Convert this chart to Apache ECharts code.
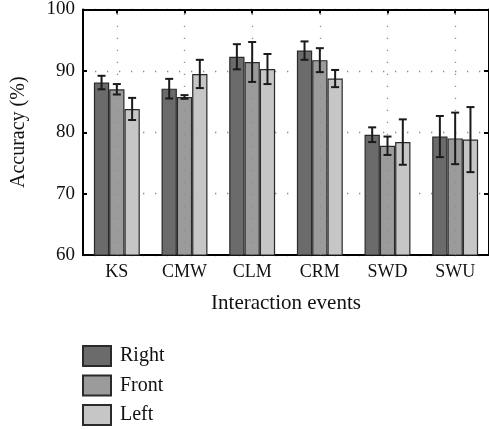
<!DOCTYPE html>
<html>
<head>
<meta charset="utf-8">
<script src="https://cdn.jsdelivr.net/npm/echarts@6/dist/echarts.min.js"></script>
<style>
  html, body { margin: 0; padding: 0; background: #fff; }
  #chart { width: 489px; height: 429px; }
</style>
</head>
<body>
<div id="chart"></div>
<script>
// Interaction events and accuracy (mean and spread) per hand position
const categories = ['KS', 'CMW', 'CLM', 'CRM', 'SWD', 'SWU'];
const seriesNames = ['Right', 'Front', 'Left'];
const rightMean = [88.1, 87.1, 92.3, 93.3, 79.6, 79.3];
const rightErr  = [1.1, 1.6, 2.05, 1.5, 1.2, 3.35];
const frontMean = [87.0, 85.75, 91.45, 91.75, 77.8, 79.0];
const frontErr  = [0.85, 0.3, 3.25, 1.95, 1.5, 4.2];
const leftMean  = [83.8, 89.5, 90.3, 88.75, 78.4, 78.8];
const leftErr   = [1.8, 2.3, 2.45, 1.4, 3.7, 5.3];
const yTicks = [60, 70, 80, 90, 100];

const means = [rightMean, frontMean, leftMean];
const errs = [rightErr, frontErr, leftErr];
const colors = ['#6b6b6b', '#9b9b9b', '#c6c6c6'];

const FONT = 'Liberation Serif';
const BAR_W = 15.3;

const chart = echarts.init(document.getElementById('chart'), null, { renderer: 'canvas' });

const dotted = { color: '#8a8a8a', width: 1.3, type: [1.3, 10.7] };

const barSeries = seriesNames.map((name, i) => ({
  name,
  type: 'bar',
  data: means[i],
  barWidth: BAR_W,
  barGap: '0%',
  z: 3,
  itemStyle: { color: colors[i], borderColor: '#2a2a2a', borderWidth: 1.2 }
}));

// error bars, one custom series per position offset to sit on its bar
const errSeries = seriesNames.map((name, i) => ({
  type: 'custom',
  z: 5,
  silent: true,
  data: categories.map((c, k) => [k, means[i][k] - errs[i][k], means[i][k] + errs[i][k]]),
  renderItem: function (params, api) {
    const lo = api.coord([api.value(0), api.value(1)]);
    const hi = api.coord([api.value(0), api.value(2)]);
    const x = lo[0] + (i - 1) * BAR_W;
    const cap = 4;
    const style = { stroke: '#1a1a1a', lineWidth: 2 };
    return {
      type: 'group',
      children: [
        { type: 'line', shape: { x1: x, y1: lo[1], x2: x, y2: hi[1] }, style },
        { type: 'line', shape: { x1: x - cap, y1: lo[1], x2: x + cap, y2: lo[1] }, style },
        { type: 'line', shape: { x1: x - cap, y1: hi[1], x2: x + cap, y2: hi[1] }, style }
      ]
    };
  }
}));

// vertical dotted guides through each category centre
const guideSeries = {
  type: 'line',
  data: [],
  z: 1,
  silent: true,
  markLine: {
    silent: true,
    symbol: 'none',
    label: { show: false },
    lineStyle: dotted,
    data: categories.map(c => ({ xAxis: c }))
  }
};

chart.setOption({
  animation: false,
  backgroundColor: '#fff',
  textStyle: { fontFamily: FONT },
  grid: { left: 83, top: 9, width: 409, height: 246, containLabel: false },
  legend: {
    orient: 'vertical',
    left: 82,
    top: 345,
    height: 90,
    padding: 0,
    itemWidth: 28,
    itemHeight: 20,
    itemGap: 7.5,
    icon: 'rect',
    data: seriesNames,
    textStyle: { fontFamily: FONT, fontSize: 20, color: '#111', padding: [0, 0, 0, 4] }
  },
  xAxis: [
    {
      type: 'category',
      data: categories,
      position: 'bottom',
      name: 'Interaction events',
      nameLocation: 'middle',
      nameGap: 38,
      nameTextStyle: { fontFamily: FONT, fontSize: 21, color: '#111' },
      axisLine: { lineStyle: { color: '#000', width: 2 } },
      axisTick: { show: false },
      axisLabel: { fontFamily: FONT, fontSize: 18, color: '#111', margin: 8 },
      splitLine: { show: false }
    },
    {
      type: 'category',
      data: categories,
      position: 'top',
      axisLine: { lineStyle: { color: '#000', width: 2 } },
      axisTick: { show: true, inside: true, alignWithLabel: true, length: 4, lineStyle: { color: '#000', width: 2 } },
      axisLabel: { show: false },
      splitLine: { show: false }
    }
  ],
  yAxis: [
    {
      type: 'value',
      min: 60,
      max: 100,
      interval: 10,
      name: 'Accuracy (%)',
      nameLocation: 'middle',
      nameGap: 54,
      nameTextStyle: { fontFamily: FONT, fontSize: 20, color: '#111' },
      axisLine: { show: true, lineStyle: { color: '#000', width: 2 } },
      axisTick: { show: true, inside: true, length: 4, lineStyle: { color: '#000', width: 2 } },
      axisLabel: {
        fontFamily: FONT, fontSize: 19, color: '#111', margin: 8,
        formatter: v => (yTicks.indexOf(v) >= 0 ? String(v) : '')
      },
      splitLine: { show: true, lineStyle: dotted }
    },
    {
      type: 'value',
      min: 60,
      max: 100,
      interval: 10,
      position: 'right',
      axisLine: { show: true, lineStyle: { color: '#000', width: 2 } },
      axisTick: { show: true, inside: true, length: 5, lineStyle: { color: '#000', width: 2 } },
      axisLabel: { show: false },
      splitLine: { show: false }
    }
  ],
  series: [guideSeries, ...barSeries, ...errSeries]
});
</script>
</body>
</html>
